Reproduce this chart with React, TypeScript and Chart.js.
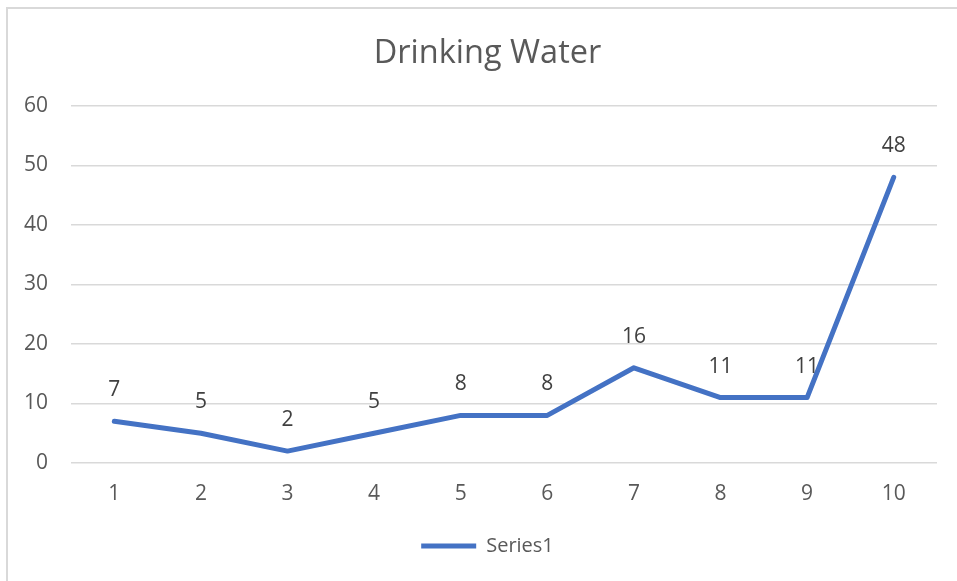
import React, { useEffect, useRef } from "react";
import { Chart, registerables } from "chart.js";

Chart.register(...registerables);

const categories = ["1", "2", "3", "4", "5", "6", "7", "8", "9", "10"];
const seriesValues = [7, 5, 2, 5, 8, 8, 16, 11, 11, 48];
const seriesName = "Series1";
const chartTitle = "Drinking Water";

const FONT = "'Open Sans', sans-serif";

const dataLabelPlugin = {
  id: "dataLabels",
  afterDatasetsDraw(chart: any) {
    const ctx = chart.ctx;
    chart.data.datasets.forEach((ds: any, di: number) => {
      const meta = chart.getDatasetMeta(di);
      meta.data.forEach((pt: any, i: number) => {
        ctx.save();
        ctx.font = `21px ${FONT}`;
        ctx.fillStyle = "#404040";
        ctx.textAlign = "center";
        ctx.textBaseline = "middle";
        ctx.fillText(String(ds.data[i]), pt.x, pt.y - 31);
        ctx.restore();
      });
    });
  },
};

export default function App() {
  const ref = useRef<HTMLCanvasElement>(null);
  useEffect(() => {
    if (!ref.current) return;
    const chart = new Chart(ref.current, {
      type: "line",
      data: {
        labels: categories,
        datasets: [
          {
            label: seriesName,
            data: seriesValues,
            borderColor: "#4472C4",
            backgroundColor: "#4472C4",
            borderWidth: 5,
            borderJoinStyle: "round",
            borderCapStyle: "round",
            pointRadius: 0,
            pointHoverRadius: 0,
            tension: 0,
            fill: false,
            yAxisID: "y",
          },
        ],
      },
      options: {
        responsive: false,
        animation: false,
        devicePixelRatio: 1,
        layout: { padding: { left: 0, right: -18, top: 0, bottom: 15 } },
        plugins: {
          title: {
            display: true,
            text: chartTitle,
            color: "#595959",
            font: { family: FONT, size: 32.5, weight: "normal" },
            padding: { top: 34, bottom: 33 },
          },
          legend: {
            display: true,
            position: "bottom",
            labels: {
              color: "#595959",
              font: { family: FONT, size: 20 },
              usePointStyle: true,
              pointStyle: "line",
              pointStyleWidth: 55,
              padding: 10,
            },
          },
          tooltip: { enabled: false },
        },
        scales: {
          x: {
            offset: true,
            grid: { display: false, drawTicks: false },
            border: { display: false },
            ticks: {
              color: "#595959",
              font: { family: FONT, size: 21 },
              padding: 18,
              maxRotation: 0,
            },
            afterFit: (scale: any) => {
              scale.height = 63;
            },
          },
          y: {
            position: "left",
            min: 0,
            max: 60,
            grid: { color: "#d9d9d9", lineWidth: 1.5, drawTicks: false },
            border: { display: false },
            ticks: {
              stepSize: 10,
              color: "#595959",
              font: { family: FONT, size: 21 },
              padding: 23,
            },
            afterFit: (scale: any) => {
              scale.width = 71;
            },
          },
          yRight: {
            position: "right",
            display: true,
            min: 0,
            max: 60,
            grid: { display: false, drawTicks: false },
            border: { display: false },
            ticks: { display: false },
            afterFit: (scale: any) => {
              scale.width = 38;
            },
          },
        },
      },
      plugins: [dataLabelPlugin],
    });
    return () => chart.destroy();
  }, []);

  return (
    <div
      style={{
        position: "absolute",
        left: 0,
        top: 0,
        width: 957,
        height: 581,
        overflow: "hidden",
        background: "#ffffff",
      }}
    >
      <div
        style={{
          position: "absolute",
          left: 6,
          top: 7,
          width: 1200,
          height: 1000,
          border: "2px solid #d9d9d9",
          boxSizing: "border-box",
        }}
      />
      <canvas
        ref={ref}
        width={957}
        height={581}
        style={{ position: "absolute", left: 0, top: 0, width: 957, height: 581 }}
      />
    </div>
  );
}
